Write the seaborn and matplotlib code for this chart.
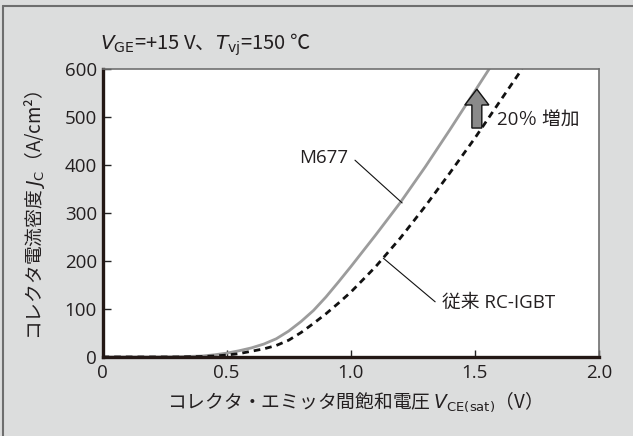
import numpy as np
import pandas as pd
import matplotlib
matplotlib.use("Agg")
import matplotlib.pyplot as plt
import seaborn as sns
from matplotlib.patches import FancyArrow
from matplotlib.lines import Line2D

# ---- data ----
vce_m677 = [0, 0.2, 0.3, 0.4, 0.45, 0.5, 0.55, 0.6, 0.65, 0.7, 0.75, 0.8, 0.85,
            0.9, 0.95, 1.0, 1.1, 1.2, 1.3, 1.4, 1.5, 1.56]
jc_m677 = [0, 0, 0.5, 2, 4.5, 8, 13, 19, 27, 38, 54, 74, 97,
           125, 156, 188, 254, 322, 396, 474, 554, 602]
vce_conv = [0, 0.2, 0.3, 0.4, 0.45, 0.5, 0.55, 0.6, 0.65, 0.7, 0.75, 0.8, 0.85,
            0.9, 0.95, 1.0, 1.1, 1.2, 1.3, 1.4, 1.5, 1.6, 1.69]
jc_conv = [0, 0, 0, 1, 2, 4, 7, 12, 17, 24, 35, 51, 70,
           90, 112, 135, 188, 248, 314, 384, 456, 532, 600]
series_names = ["M677", "従来 RC-IGBT"]
x_ticks = [0, 0.5, 1.0, 1.5, 2.0]
x_tick_labels = ["0", "0.5", "1.0", "1.5", "2.0"]
y_ticks = [0, 100, 200, 300, 400, 500, 600]
y_tick_labels = ["0", "100", "200", "300", "400", "500", "600"]
increase_label = "20％ 増加"
title_text = r"$V_{\mathrm{GE}}$=+15 V、$T_{\mathrm{vj}}$=150 ℃"
x_label = r"コレクタ・エミッタ間飽和電圧 $V_{\mathrm{CE(sat)}}$（V）"
y_label = r"コレクタ電流密度 $J_{\mathrm{C}}$（A/cm²）"

df = pd.concat([
    pd.DataFrame({"V": vce_m677, "J": jc_m677, "s": series_names[0]}),
    pd.DataFrame({"V": vce_conv, "J": jc_conv, "s": series_names[1]}),
])

sns.set_theme(style="white")
plt.rcParams["font.family"] = ["Open Sans", "Noto Sans CJK JP", "DejaVu Sans"]
plt.rcParams["mathtext.fontset"] = "dejavusans"
CJK = ["Noto Sans CJK JP", "DejaVu Sans"]

W, H = 633, 436
fig = plt.figure(figsize=(W / 100, H / 100), dpi=100)
bg = "#dcdddd"
fig.patch.set_facecolor(bg)
txt = "#231f20"
FS = 13.5

def fx(px):
    return px / W

def fy(py):
    return 1 - py / H

ax = fig.add_axes([fx(102.5), fy(357), fx(599) - fx(102.5), fy(69) - fy(357)])
ax.set_facecolor("white")

sns.lineplot(data=df[df.s == series_names[0]], x="V", y="J", ax=ax,
             color="#9c9c9c", lw=2.0, legend=False, sort=False)
sns.lineplot(data=df[df.s == series_names[1]], x="V", y="J", ax=ax,
             color="#111111", lw=2.0, legend=False, sort=False)
ax.lines[1].set_dashes((2.4, 1.8))

ax.set_xlim(0, 2.0)
ax.set_ylim(0, 600)
ax.set_xticks(x_ticks)
ax.set_xticklabels(x_tick_labels)
ax.set_yticks(y_ticks)
ax.set_yticklabels(y_tick_labels)
ax.set_xlabel("")
ax.set_ylabel("")
ax.tick_params(axis="both", direction="in", labelsize=FS, colors="#222222",
               width=1.0)
ax.tick_params(axis="x", length=5, pad=5)
ax.tick_params(axis="y", length=6, pad=4)
ax.tick_params(bottom=True, left=True, top=False, right=False)
for t in ax.get_xticklabels() + ax.get_yticklabels():
    t.set_color(txt)

for s in ["left", "bottom"]:
    ax.spines[s].set_color("#231815")
    ax.spines[s].set_linewidth(2.4)
for s in ["top", "right"]:
    ax.spines[s].set_color("#707070")
    ax.spines[s].set_linewidth(1.2)

# increase arrow
arr = FancyArrow(1.508, 477, 0, 81, width=0.04, head_width=0.097,
                 head_length=33, length_includes_head=True,
                 fc="#8a8a8a", ec="#111111", lw=1.0, zorder=5)
ax.add_patch(arr)
ax.text(1.59, 492, increase_label, fontsize=FS, va="center", ha="left",
        color=txt)

# labels with leaders
ax.text(0.99, 415, series_names[0], fontsize=FS, va="center", ha="right",
        color=txt)
ax.plot([1.017, 1.207], [410, 321], color="#111111", lw=0.8)
ax.text(1.367, 112, series_names[1], fontsize=FS, va="center", ha="left",
        color=txt)
ax.plot([1.34, 1.131], [115, 206], color="#111111", lw=0.8)

# figure texts (mathtext strings: CJK font first so non-math glyphs render)
fig.text(fx(100), fy(45), title_text, fontsize=14.5, va="center", ha="left",
         color=txt, family=CJK)
fig.text(fx(350), fy(402), x_label, fontsize=FS, va="center", ha="center",
         color=txt, family=CJK)
fig.text(fx(35), fy(215), y_label, fontsize=FS, va="center", ha="center",
         rotation=90, color=txt, family=CJK)

# outer frame (top and left)
fig.add_artist(Line2D([fx(3), fx(3)], [fy(6), 0], color="#6e6e6e", lw=1.5))
fig.add_artist(Line2D([fx(3), 1], [fy(6), fy(6)], color="#6e6e6e", lw=1.5))

fig.savefig("out.png", dpi=100, facecolor=bg)
